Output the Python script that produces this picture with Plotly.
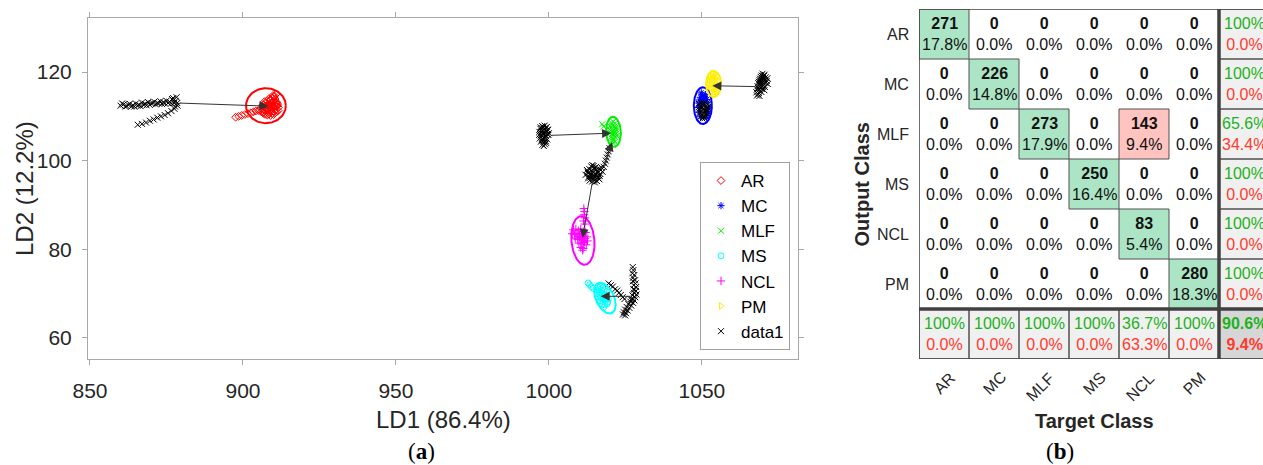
import numpy as np
import plotly.graph_objects as go

# ======================= Panel (a): LDA scores =======================
# class clouds (LD1, LD2)
ar_x = [897.6, 898.6, 899.6, 900.6, 901.6, 902.6, 903.4, 904.2, 905.0, 905.6,
        906.0, 906.5, 907.0, 907.5, 908.0, 908.5, 909.0, 909.5, 910.0, 910.5, 911.0, 911.5,
        906.2, 906.8, 907.4, 908.0, 908.6, 909.2, 909.8, 910.4, 911.0, 911.6,
        906.5, 907.2, 907.9, 908.6, 909.3, 910.0, 910.7, 911.3,
        907.0, 908.0, 909.0, 910.0, 911.0, 907.6, 908.6, 909.6,
        908.5, 909.5, 910.3, 910.8, 909.8, 910.5, 911.2, 906.4,
        906.8, 907.6, 908.4, 909.2, 910.0, 910.8, 907.2, 908.0, 908.8, 909.6,
        910.4, 911.2, 909.0, 909.8, 910.2]
ar_y = [109.8, 110.0, 110.2, 110.4, 110.6, 110.8, 111.0, 111.2, 111.3, 111.4,
        111.0, 110.8, 110.5, 110.4, 110.3, 110.5, 110.2, 110.6, 110.4, 110.8, 111.0, 111.3,
        111.8, 111.6, 111.9, 111.7, 112.0, 111.8, 112.1, 111.9, 112.2, 112.0,
        112.6, 112.9, 112.5, 112.8, 113.0, 112.7, 113.1, 112.6,
        113.3, 113.5, 113.6, 113.4, 113.2, 112.2, 112.4, 112.3,
        114.0, 114.2, 114.6, 115.0, 114.7, 113.9, 112.9, 112.3,
        110.9, 111.1, 111.0, 111.2, 111.1, 111.5, 112.3, 112.4, 112.2, 112.5,
        112.3, 112.4, 113.8, 113.3, 114.3]

mc_x = [1049.6, 1050.3, 1051.0, 1049.2, 1050.0, 1050.8, 1051.5, 1049.0, 1051.9, 1048.9,
        1052.2, 1049.1, 1052.0, 1049.5, 1051.6, 1050.5, 1050.0, 1051.2, 1049.4, 1051.8,
        1050.6, 1049.8]
mc_y = [114.3, 114.6, 114.2, 113.7, 113.9, 113.6, 113.8, 113.0, 113.2, 112.0,
        111.8, 110.9, 110.5, 109.9, 109.7, 113.3, 115.0, 114.9, 112.4, 111.1,
        114.0, 115.3]

mlf_x = [1020.3, 1021.0, 1021.6, 1020.0, 1020.7, 1021.4, 1022.0, 1019.8, 1020.5, 1021.2,
         1021.9, 1019.9, 1020.6, 1021.3, 1022.0, 1020.2, 1020.9, 1021.6, 1020.6, 1021.3,
         1017.4, 1017.9, 1020.9, 1021.5, 1022.2, 1020.4, 1021.1, 1021.8]
mlf_y = [108.6, 108.8, 108.4, 107.8, 107.9, 107.7, 107.6, 107.0, 107.1, 106.9,
         106.8, 106.2, 106.0, 106.3, 106.1, 105.3, 105.2, 105.4, 104.5, 104.6,
         108.2, 107.7, 103.9, 104.2, 105.6, 106.6, 105.8, 107.2]

ms_x = [1012.8, 1013.3, 1013.8, 1014.4, 1016.0, 1016.8, 1017.6, 1015.6, 1016.4, 1017.2,
        1018.0, 1018.8, 1015.8, 1016.6, 1017.4, 1018.2, 1019.0, 1016.2, 1017.0, 1017.8,
        1018.6, 1019.4, 1016.8, 1017.6, 1018.4, 1019.2, 1017.4, 1018.2, 1019.0, 1017.9,
        1016.4, 1017.2, 1018.0, 1018.8]
ms_y = [72.4, 72.0, 71.6, 71.2, 71.5, 71.6, 71.3, 70.8, 70.9, 70.7,
        70.8, 70.4, 70.0, 69.9, 70.1, 69.8, 69.6, 69.2, 69.1, 69.3,
        69.0, 68.8, 68.4, 68.3, 68.5, 68.1, 67.6, 67.5, 67.7, 66.9,
        70.4, 69.5, 69.7, 68.9]

ncl_x = [1011.4, 1011.6, 1011.5, 1011.8, 1011.3, 1011.7, 1008.0, 1008.8, 1009.6, 1010.4,
         1011.2, 1012.0, 1007.6, 1008.4, 1009.2, 1010.0, 1010.8, 1011.6, 1012.4, 1008.6,
         1009.4, 1010.2, 1011.0, 1011.8, 1012.6, 1009.8, 1010.6, 1011.4, 1012.2, 1010.4,
         1011.2, 1011.0, 1010.0, 1010.8, 1011.6]
ncl_y = [89.2, 88.5, 87.8, 87.1, 86.4, 85.7, 84.4, 84.6, 84.2, 84.5,
         84.0, 83.8, 83.5, 83.3, 83.6, 83.2, 83.4, 83.0, 82.8, 82.5,
         82.2, 82.6, 82.1, 82.4, 81.9, 81.4, 81.2, 81.5, 81.0, 80.4,
         80.2, 79.8, 82.9, 82.7, 81.7]

pm_x = [1053.4, 1054.2, 1052.6, 1053.4, 1054.2, 1055.0, 1052.2, 1053.0, 1053.8, 1054.6,
        1055.4, 1052.2, 1053.0, 1053.8, 1054.6, 1055.4, 1052.6, 1053.4, 1054.2, 1055.0,
        1053.0, 1053.8, 1054.6, 1053.8]
pm_y = [119.6, 119.5, 118.9, 119.0, 118.8, 118.9, 118.1, 118.2, 118.0, 118.1,
        117.9, 117.2, 117.3, 117.1, 117.2, 117.0, 116.3, 116.4, 116.2, 116.3,
        115.5, 115.4, 115.6, 114.8]

# data1 (black) clouds
d1a_x = [860.0, 861.0, 862.0, 863.0, 864.0, 865.0, 866.0, 867.0, 868.0, 869.0, 870.0, 871.0,
         872.0, 873.0, 874.0, 875.0, 876.0, 877.0, 878.0, 860.5, 861.5, 862.5, 863.5, 864.5,
         865.5, 866.5, 867.5, 868.5, 869.5, 870.5, 871.5, 872.5, 873.5, 874.5, 875.5, 876.5,
         877.5, 878.5, 877.2, 878.3, 876.8, 878.6, 877.8,
         865.6, 867.0, 868.3, 869.6, 870.8, 872.0, 873.2, 874.4, 875.5, 876.6, 877.6]
d1a_y = [112.4, 112.7, 112.3, 112.8, 112.5, 112.9, 112.6, 113.1, 112.8, 113.2, 112.9, 113.3,
         113.0, 113.4, 113.2, 113.5, 113.3, 113.7, 113.5, 112.9, 112.2, 112.6, 112.2, 112.2,
         112.4, 112.3, 112.6, 112.5, 112.6, 113.0, 112.7, 112.9, 112.8, 112.9, 113.0, 112.9,
         113.0, 113.0, 114.1, 114.3, 113.9, 112.4, 112.2,
         108.1, 108.3, 108.6, 109.0, 109.3, 109.7, 110.0, 110.3, 110.7, 111.2, 111.7]
d1b_x = [997.8, 998.6, 999.3, 997.2, 998.0, 998.8, 999.6, 996.9, 997.6, 998.4, 999.2, 1000.0,
         996.8, 997.5, 998.3, 999.0, 999.8, 997.0, 997.8, 998.6, 999.4, 997.4, 998.2, 999.0,
         997.9, 998.7, 998.3,
         997.3, 998.1, 998.9, 999.7, 997.1, 997.9, 998.7, 999.5, 997.6, 998.4, 999.1]
d1b_y = [107.8, 107.9, 107.6, 107.2, 107.3, 107.1, 107.0, 106.5, 106.6, 106.4, 106.6, 106.2,
         105.8, 105.7, 105.9, 105.6, 105.8, 105.0, 104.9, 105.1, 104.8, 104.3, 104.2, 104.4,
         103.6, 103.7, 103.3,
         107.5, 107.6, 107.4, 106.9, 106.0, 106.1, 105.9, 106.0, 104.6, 104.6, 104.0]
d1c_x = [1012.0, 1012.8, 1013.6, 1014.4, 1015.2, 1016.0, 1016.8, 1017.5, 1012.4, 1013.2,
         1014.0, 1014.8, 1015.6, 1016.4, 1017.2, 1012.8, 1013.6, 1014.4, 1015.2, 1016.0,
         1013.3, 1014.1, 1014.9, 1015.7, 1016.5, 1013.8, 1014.6, 1015.4, 1014.2, 1015.0,
         1012.6, 1013.4, 1014.2, 1015.0, 1015.8, 1016.6, 1013.0, 1013.8, 1014.6, 1015.4,
         1016.2, 1017.0,
         1017.9, 1018.3, 1018.6, 1018.9, 1019.2, 1019.5, 1019.8]
d1c_y = [96.8, 97.2, 96.6, 97.4, 96.9, 97.3, 97.0, 97.5, 97.9, 98.1,
         97.8, 98.3, 98.0, 98.2, 98.4, 96.0, 96.2, 95.9, 96.3, 96.1,
         95.5, 95.3, 95.6, 95.4, 95.8, 98.7, 98.8, 98.6, 99.0, 95.1,
         97.5, 97.0, 97.6, 97.0, 97.6, 96.6, 96.4, 96.8, 96.6, 96.8,
         96.5, 97.9,
         98.6, 99.3, 100.0, 100.7, 101.4, 102.1, 102.8]
d1d_x = [1049.0, 1049.7, 1050.4, 1051.1, 1051.8, 1052.4, 1049.3, 1050.0, 1050.7, 1051.4,
         1052.1, 1049.0, 1049.7, 1050.4, 1051.1, 1051.8, 1049.4, 1050.1, 1050.8, 1051.5,
         1049.8, 1050.5, 1051.2, 1050.2, 1050.9]
d1d_y = [112.8, 113.0, 112.9, 113.1, 112.7, 112.4, 112.2, 112.1, 112.3, 112.0,
         111.9, 111.5, 111.3, 111.6, 111.4, 111.2, 110.7, 110.5, 110.8, 110.6,
         110.0, 109.9, 110.1, 109.5, 109.6]
d1e_x = [1069.8, 1070.5, 1069.2, 1070.0, 1070.8, 1071.4, 1068.8, 1069.6, 1070.4, 1071.2,
         1068.4, 1069.2, 1070.0, 1070.8, 1071.5, 1068.2, 1069.0, 1069.8, 1070.6, 1068.0,
         1068.8, 1069.6, 1070.4, 1067.8, 1068.6, 1069.4, 1068.0, 1068.8,
         1069.5, 1070.2, 1069.0, 1069.7, 1070.3, 1068.6, 1069.3, 1070.0, 1068.3, 1069.1, 1068.4]
d1e_y = [119.6, 119.4, 118.9, 119.0, 118.8, 118.6, 118.2, 118.3, 118.1, 118.0,
         117.5, 117.6, 117.4, 117.5, 117.3, 116.8, 116.9, 116.7, 116.6, 116.1,
         116.0, 116.2, 115.9, 115.4, 115.3, 115.5, 114.7, 114.6,
         119.2, 119.1, 118.5, 118.6, 118.4, 117.8, 117.9, 117.8, 116.4, 116.5, 115.0]
d1f_x = [1027.4, 1027.6, 1027.3, 1027.9, 1027.5, 1028.1, 1027.4, 1028.3, 1027.7, 1028.5,
         1027.6, 1028.4, 1027.8, 1028.6, 1027.3, 1028.2, 1027.0, 1027.9, 1026.6, 1027.5,
         1026.0, 1026.9, 1025.4, 1026.3, 1024.9, 1025.7, 1024.5, 1025.2, 1024.2, 1024.9,
         1026.8, 1028.0,
         1019.5, 1020.2, 1020.9, 1021.6, 1022.3, 1022.9, 1023.5, 1024.1, 1024.7]
d1f_y = [76.0, 75.3, 74.6, 74.2, 73.6, 73.0, 72.8, 72.3, 71.9, 71.5,
         71.0, 70.6, 70.2, 69.8, 69.6, 69.2, 68.8, 68.5, 68.2, 67.9,
         67.6, 67.3, 67.0, 66.8, 66.4, 66.2, 65.8, 65.6, 65.3, 65.1,
         68.7, 70.9,
         72.3, 71.9, 71.6, 71.0, 70.7, 70.2, 69.7, 69.2, 68.8]

# class confidence ellipses: centre, half-width (LD1), half-height (LD2), tilt (deg)
ell_names = ["AR", "MC", "MLF", "MS", "NCL", "PM"]
ell_cx = [907.5, 1050.3, 1021.1, 1018.3, 1011.1, 1053.8]
ell_cy = [112.4, 112.4, 106.5, 69.0, 82.0, 117.3]
ell_a = [6.5, 2.95, 2.4, 2.95, 3.75, 2.45]
ell_b = [3.95, 4.15, 3.4, 3.7, 5.5, 2.95]
ell_tilt = [0, 0, 3, 25, 5, 0]

# arrows: from data1 cloud to class centre
arr_x0 = [878.8, 1000.3, 1014.4, 1018.0, 1068.0, 1027.2]
arr_y0 = [113.0, 105.7, 96.0, 98.8, 116.7, 69.4]
arr_x1 = [908.3, 1020.3, 1011.0, 1020.6, 1053.4, 1016.9]
arr_y1 = [112.3, 106.2, 82.6, 104.2, 116.9, 69.4]

# ======================= Panel (b): confusion matrix =======================
classes = ["AR", "MC", "MLF", "MS", "NCL", "PM"]
cm_counts = [[271, 0, 0, 0, 0, 0],
             [0, 226, 0, 0, 0, 0],
             [0, 0, 273, 0, 143, 0],
             [0, 0, 0, 250, 0, 0],
             [0, 0, 0, 0, 83, 0],
             [0, 0, 0, 0, 0, 280]]

# ----------------------------------------------------------------
W, H = 1263, 465
FONT = "Liberation Sans, Arial, sans-serif"
TXT = "#262626"
X_RANGE = [849.35, 1081.4]
Y_RANGE = [55.26, 132.18]
dom_x1 = [88 / W, 798 / W]
dom_y1 = [(H - 359) / H, (H - 18) / H]
dom_x2 = [919 / W, 1.0]
dom_y2 = [(H - 359) / H, (H - 9) / H]

fig = go.Figure()

colors = {"AR": "#FF0000", "MC": "#0000FF", "MLF": "#00F000", "MS": "#00FFFF",
          "NCL": "#FF00FF", "PM": "#FFEE00"}
cls_data = [("AR", ar_x, ar_y, "diamond-open"),
            ("MC", mc_x, mc_y, "asterisk-open"),
            ("MLF", mlf_x, mlf_y, "x-thin-open"),
            ("MS", ms_x, ms_y, "circle-open"),
            ("NCL", ncl_x, ncl_y, "cross-thin-open"),
            ("PM", pm_x, pm_y, "triangle-right-open")]
for name, xs, ys, sym in cls_data:
    fig.add_trace(go.Scatter(x=xs, y=ys, mode="markers", name=name,
                             marker=dict(symbol=sym, size=6, color=colors[name],
                                         line=dict(width=1, color=colors[name])),
                             xaxis="x", yaxis="y", hoverinfo="skip"))

d1_x = d1a_x + d1b_x + d1c_x + d1d_x + d1e_x + d1f_x
d1_y = d1a_y + d1b_y + d1c_y + d1d_y + d1e_y + d1f_y
fig.add_trace(go.Scatter(x=d1_x, y=d1_y, mode="markers", name="data1",
                         marker=dict(symbol="x-thin-open", size=6, color="black",
                                     line=dict(width=1, color="black")),
                         xaxis="x", yaxis="y", hoverinfo="skip"))

# ellipses
sx = (dom_x1[1] - dom_x1[0]) * W / (X_RANGE[1] - X_RANGE[0])
sy = (dom_y1[1] - dom_y1[0]) * H / (Y_RANGE[1] - Y_RANGE[0])
t = np.linspace(0, 2 * np.pi, 145)
for nm, cx, cy, a, b, tl in zip(ell_names, ell_cx, ell_cy, ell_a, ell_b, ell_tilt):
    th = np.radians(tl)
    u = a * sx * np.cos(t)
    v = b * sy * np.sin(t)
    px = u * np.cos(th) - v * np.sin(th)
    py = u * np.sin(th) + v * np.cos(th)
    fig.add_trace(go.Scatter(x=cx + px / sx, y=cy + py / sy, mode="lines",
                             line=dict(color=colors[nm], width=2), showlegend=False,
                             xaxis="x", yaxis="y", hoverinfo="skip"))

annotations = []
for x0, y0, x1, y1 in zip(arr_x0, arr_y0, arr_x1, arr_y1):
    annotations.append(dict(x=x1, y=y1, ax=x0, ay=y0, xref="x", yref="y",
                            axref="x", ayref="y", showarrow=True, arrowhead=2,
                            arrowsize=1.8, arrowwidth=1, arrowcolor="#333333", text=""))

# ---------------- confusion matrix ----------------
n = len(classes)
total = sum(sum(r) for r in cm_counts)
zc = [[0] * (n + 1) for _ in range(n + 1)]
for i in range(n):
    for j in range(n):
        if cm_counts[i][j] > 0:
            zc[i][j] = 1 if i == j else 2
    zc[i][n] = 3
    zc[n][i] = 3
zc[n][n] = 4
cscale = [[0, "#FFFFFF"], [0.125, "#FFFFFF"], [0.125, "#ABE5C5"], [0.375, "#ABE5C5"],
          [0.375, "#FFC4BF"], [0.625, "#FFC4BF"], [0.625, "#F0F0F0"], [0.875, "#F0F0F0"],
          [0.875, "#D6D6D6"], [1, "#D6D6D6"]]
fig.add_trace(go.Heatmap(z=zc, x=list(range(n + 1)), y=list(range(n + 1)),
                         zmin=0, zmax=4, colorscale=cscale, showscale=False,
                         xaxis="x2", yaxis="y2", hoverinfo="skip"))


def fmt(v):
    return "100%" if abs(v - 100) < 1e-9 else f"{v:.1f}%"


GREEN = "#1DB21D"
RED = "#FF3A2E"


def ann(**kw):
    d = dict(showarrow=False, xanchor="center", yanchor="middle")
    d.update(kw)
    return d


for i in range(n):
    for j in range(n):
        c = cm_counts[i][j]
        annotations.append(ann(x=j, y=i, xref="x2", yref="y2",
                               text=f"<b>{c}</b><br>{fmt(100 * c / total)}",
                               font=dict(family=FONT, size=16, color="#111111")))
# row summaries (precision) and column summaries (recall)
for i in range(n):
    rs = sum(cm_counts[i])
    acc = 100 * cm_counts[i][i] / rs
    annotations.append(ann(x=n, y=i, xref="x2", yref="y2",
                           text=f"<span style='color:{GREEN}'>{fmt(acc)}</span><br>"
                                f"<span style='color:{RED}'>{fmt(100 - acc)}</span>",
                           font=dict(family=FONT, size=16)))
for j in range(n):
    cs = sum(cm_counts[i][j] for i in range(n))
    acc = 100 * cm_counts[j][j] / cs
    annotations.append(ann(x=j, y=n, xref="x2", yref="y2",
                           text=f"<span style='color:{GREEN}'>{fmt(acc)}</span><br>"
                                f"<span style='color:{RED}'>{fmt(100 - acc)}</span>",
                           font=dict(family=FONT, size=16)))
ov = 100 * sum(cm_counts[k][k] for k in range(n)) / total
annotations.append(ann(x=n, y=n, xref="x2", yref="y2",
                       text=f"<b><span style='color:{GREEN}'>{fmt(ov)}</span><br>"
                            f"<span style='color:{RED}'>{fmt(100 - ov)}</span></b>",
                       font=dict(family=FONT, size=16)))

# borders
shapes = []
for i in range(n + 1):
    for j in range(n + 1):
        if zc[i][j] > 0:
            shapes.append(dict(type="rect", xref="x2", yref="y2", x0=j - 0.5, x1=j + 0.5,
                               y0=i - 0.5, y1=i + 0.5, line=dict(color="#505050", width=1)))
shapes.append(dict(type="rect", xref="x2", yref="y2", x0=-0.5, x1=n + 0.5, y0=-0.5,
                   y1=n + 0.5, line=dict(color="#404040", width=1.5)))
shapes.append(dict(type="line", xref="x2", yref="y2", x0=n - 0.5, x1=n - 0.5, y0=-0.5,
                   y1=n + 0.5, line=dict(color="#404040", width=3.5)))
shapes.append(dict(type="line", xref="x2", yref="y2", x0=-0.5, x1=n + 0.5, y0=n - 0.5,
                   y1=n - 0.5, line=dict(color="#404040", width=3.5)))

# row / column labels
for i, c in enumerate(classes):
    annotations.append(ann(x=911 / W, y=i, xref="paper", yref="y2", xanchor="right",
                           text=c, font=dict(family=FONT, size=16, color=TXT)))
    L = len(c)
    annotations.append(ann(x=i - (L - 2) * 0.09, y=(H - (383 + (L - 2) * 4)) / H,
                           xref="x2", yref="paper", text=c, textangle=-45,
                           font=dict(family=FONT, size=16, color=TXT)))

# titles
annotations += [
    ann(x=443 / W, y=(H - 419) / H, xref="paper", yref="paper",
        text="LD1 (86.4%)", font=dict(family=FONT, size=24, color=TXT)),
    ann(x=24 / W, y=(H - 189) / H, xref="paper", yref="paper",
        text="LD2 (12.2%)", textangle=-90, font=dict(family=FONT, size=24, color=TXT)),
    ann(x=862 / W, y=(H - 184.5) / H, xref="paper", yref="paper",
        text="<b>Output Class</b>", textangle=-90, font=dict(family=FONT, size=20, color=TXT)),
    ann(x=1094 / W, y=(H - 421) / H, xref="paper", yref="paper",
        text="<b>Target Class</b>", font=dict(family=FONT, size=20, color=TXT)),
    ann(x=421 / W, y=(H - 451) / H, xref="paper", yref="paper",
        text="(<b>a</b>)", font=dict(family="Liberation Serif, serif", size=23, color="black")),
    ann(x=1060 / W, y=(H - 451) / H, xref="paper", yref="paper",
        text="(<b>b</b>)", font=dict(family="Liberation Serif, serif", size=23, color="black")),
]

AX = "#A8A8A8"
fig.update_layout(
    width=W, height=H, margin=dict(l=0, r=0, t=0, b=0, pad=0, autoexpand=False),
    paper_bgcolor="white", plot_bgcolor="white",
    font=dict(family=FONT, color=TXT),
    showlegend=True,
    legend=dict(x=790 / W, y=(H - 350) / H, xanchor="right", yanchor="bottom",
                bgcolor="white", bordercolor="#A0A0A0", borderwidth=1,
                font=dict(family=FONT, size=17, color="black"),
                tracegroupgap=0, itemwidth=30),
    xaxis=dict(domain=dom_x1, range=X_RANGE, tickvals=[850, 900, 950, 1000, 1050],
               showline=True, linecolor=AX, linewidth=1, mirror="allticks",
               ticks="outside", ticklen=5, tickcolor=AX, showgrid=False, zeroline=False,
               automargin=False,
               tickfont=dict(family=FONT, size=21, color=TXT), ticklabelstandoff=8),
    yaxis=dict(domain=dom_y1, range=Y_RANGE, tickvals=[60, 80, 100, 120],
               showline=True, linecolor=AX, linewidth=1, mirror="allticks",
               ticks="outside", ticklen=5, tickcolor=AX, showgrid=False, zeroline=False,
               automargin=False,
               tickfont=dict(family=FONT, size=21, color=TXT), ticklabelstandoff=6),
    xaxis2=dict(domain=dom_x2, range=[-0.5, -0.5 + (W - 919) / 50], showticklabels=False,
                showgrid=False, zeroline=False, showline=False, ticks="", anchor="y2",
                automargin=False),
    yaxis2=dict(domain=dom_y2, range=[6.5, -0.5], showticklabels=False,
                showgrid=False, zeroline=False, showline=False, ticks="", anchor="x2",
                automargin=False),
    annotations=annotations, shapes=shapes,
)

fig.write_html("out.html", config={"displayModeBar": False},
               post_script="document.body.style.margin='0';document.body.style.overflow='hidden';")
